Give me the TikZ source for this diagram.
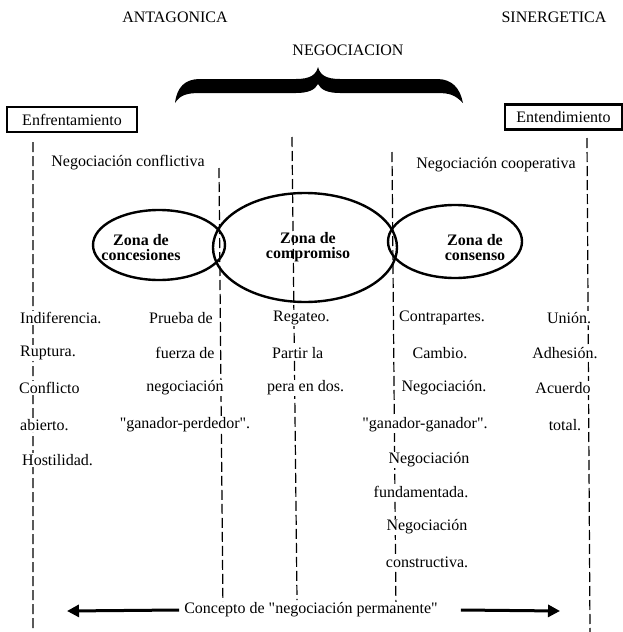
\documentclass[tikz,border=0pt]{standalone}
\usepackage{fontspec}
\setmainfont{Liberation Serif}[Ligatures=TeXOff]
\usetikzlibrary{arrows.meta}
\newcommand{\txtsize}{\fontsize{16}{15}\selectfont}
\tikzset{
    base/.style={font=\txtsize, inner sep=1pt},
    rowtext/.style={base, fill=white},
    framed/.style={base, draw, line width=2.6pt, minimum height=25pt},
    zone/.style={line width=2.4pt},
    zonetext/.style={base, font=\txtsize\bfseries, align=center},
    guide/.style={line width=1.2pt, dash pattern=on 10pt off 4pt},
    longarrow/.style={line width=3pt, -{Triangle[length=12pt,width=12pt]}}
}

\begin{document}
\begin{tikzpicture}[x=1pt,y=-1pt]
    \useasboundingbox (0,0) rectangle (623,632);

    \node[base] (antag) at (175,17) {ANTAGONICA};
    \node[base] (sinerg) at (554,17) {SINERGETICA};
    \node[base] (negoc) at (348,50) {NEGOCIACION};

    \fill (175,103) .. controls (177,87) and (185,79) .. (200,79) -- (296,79)
        .. controls (310,79) and (316,75) .. (318,67)
        .. controls (320,75) and (326,79) .. (340,79) -- (437,79)
        .. controls (452,79) and (460,88) .. (463,103)
        .. controls (455,95) and (450,93) .. (437,93) -- (340,93)
        .. controls (328,93) and (321,90) .. (318,84)
        .. controls (315,90) and (308,93) .. (296,93) -- (200,93)
        .. controls (187,93) and (180,95) .. (175,103) -- cycle;

    \node[framed, minimum width=130pt] (enfr) at (72,119.5) {Enfrentamiento};
    \node[framed, minimum width=117pt] (entend) at (563.5,117) {Entendimiento};

    \coordinate (L1a) at (33,142);  \coordinate (L1b) at (33,632);
    \coordinate (L2a) at (219,168); \coordinate (L2b) at (223,613);
    \coordinate (L3a) at (292,137); \coordinate (L3b) at (297,600);
    \coordinate (L4a) at (392,152); \coordinate (L4b) at (396,613);
    \coordinate (L5a) at (587,138); \coordinate (L5b) at (590,632);
    \draw[guide] (L1a) -- (L1b) (L2a) -- (L2b) (L3a) -- (L3b)
        (L4a) -- (L4b) (L5a) -- (L5b);

    \node[base] (conflict) at (128,163) {Negociación conflictiva};
    \node[base] (coop) at (496,165) {Negociación cooperativa};

    \draw[zone] (159,245) ellipse [x radius=66, y radius=35];
    \draw[zone] (305,247.5) ellipse [x radius=92, y radius=54.5];
    \draw[zone] (455,241.5) ellipse [x radius=67, y radius=36.5];
    \node[zonetext] (zconc) at (141,247.5) {Zona de\\concesiones};
    \node[zonetext] (zcomp) at (308,247.5) {Zona de\\compromiso};
    \node[zonetext] (zcons) at (475,247.5) {Zona de\\consenso};

    \node[rowtext, anchor=west] (a1) at (19,318) {Indiferencia.};
    \node[rowtext, anchor=west] (a2) at (19,353) {Ruptura.};
    \node[rowtext, anchor=west] (a3) at (18,388) {Conflicto};
    \node[rowtext, anchor=west] (a4) at (19,425) {abierto.};
    \node[rowtext, anchor=west] (a5) at (21,460) {Hostilidad.};

    \node[rowtext] (b1) at (181,318) {Prueba de};
    \node[rowtext] (b2) at (185,353) {fuerza de};
    \node[rowtext] (b3) at (185,388) {negociación};
    \node[rowtext] (b4) at (185,425) {"ganador-perdedor".};

    \node[rowtext, anchor=west] (c1) at (272,318) {Regateo.};
    \node[rowtext, anchor=west] (c2) at (271,353) {Partir la};
    \node[rowtext, anchor=west] (c3) at (266,388) {pera en dos.};

    \node[rowtext] (d1) at (442,318) {Contrapartes.};
    \node[rowtext] (d2) at (440,353) {Cambio.};
    \node[rowtext] (d3) at (444,388) {Negociación.};
    \node[rowtext] (d4) at (425,425) {"ganador-ganador".};
    \node[rowtext] (d5) at (429,460) {Negociación};
    \node[rowtext] (d6) at (421,492) {fundamentada.};
    \node[rowtext] (d7) at (427,527) {Negociación};
    \node[rowtext] (d8) at (427,562) {constructiva.};

    \node[rowtext] (e1) at (569,318) {Unión.};
    \node[rowtext] (e2) at (565,353) {Adhesión.};
    \node[rowtext] (e3) at (563,388) {Acuerdo};
    \node[rowtext] (e4) at (565,425) {total.};

    \node[rowtext] (concept) at (311,610) {Concepto de "negociación permanente"};
    \coordinate (tipL) at (67,611);
    \coordinate (tipR) at (560,611);
    \draw[longarrow] ([xshift=-4pt]concept.west) -- (tipL);
    \draw[longarrow] ([xshift=22pt]concept.east) -- (tipR);
\end{tikzpicture}
\end{document}
